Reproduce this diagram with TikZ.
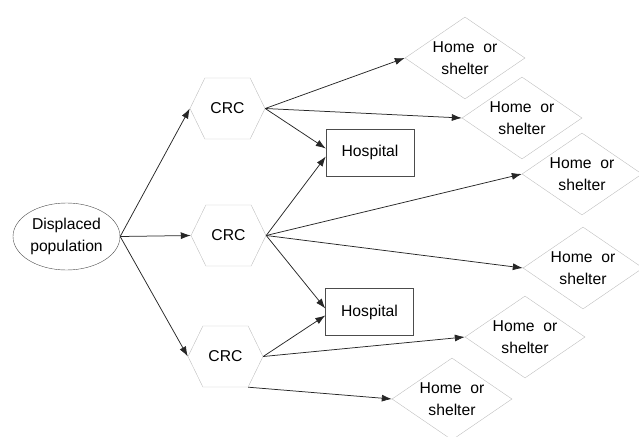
\documentclass[tikz,border=0pt]{standalone}
\usepackage{fontspec}
\setmainfont{Liberation Sans}
\usetikzlibrary{shapes.geometric,shapes.symbols,arrows.meta}

\begin{document}
\begin{tikzpicture}[x=1pt,y=-1pt,
  every node/.style={font=\fontsize{15.7}{22}\selectfont,align=center},
  pop/.style={ellipse,draw=black!70,minimum width=107pt,minimum height=67pt,inner sep=0pt},
  crc/.style={signal,signal to=west and east,signal pointer angle=128,draw=black!25,
    minimum width=75pt,minimum height=61pt,inner sep=0pt},
  hosp/.style={rectangle,draw=black!70,minimum width=88pt,minimum height=47pt,inner sep=0pt},
  home/.style={diamond,draw=black!25,aspect=1.46,minimum width=120pt,minimum height=82pt,inner sep=0pt},
  flow/.style={draw=black!85,line width=0.75pt,-{Latex[length=10pt,width=7pt]}}]
  \useasboundingbox (0,0) rectangle (639,436);
  \node[pop] (pop) at (66.5,236.5) {\fontsize{15.7}{25}\selectfont Displaced\\population};
  \node[crc] (crc1) at (227.5,108.5) {CRC};
  \node[crc] (crc2) at (228.5,235.5) {CRC};
  \node[crc] (crc3) at (225.5,356.5) {CRC};
  \node[hosp] (hosp1) at (370,152.5) {Hospital};
  \node[hosp] (hosp2) at (369.5,312) {Hospital};
  \node[home] (home1) at (465,58) {Home\ \ or\\shelter};
  \node[home] (home2) at (522,118) {Home\ \ or\\shelter};
  \node[home] (home3) at (582,174) {Home\ \ or\\shelter};
  \node[home] (home4) at (583,268) {Home\ \ or\\shelter};
  \node[home] (home5) at (525,337) {Home\ \ or\\shelter};
  \node[home] (home6) at (452,399) {Home\ \ or\\shelter};
  \foreach \c in {crc1,crc2,crc3}
    \draw[flow] (pop.east) -- (\c.west);
  \draw[flow] (crc1.east) -- (home1.west);
  \draw[flow] (crc1.east) -- (home2.west);
  \draw[flow] (crc1.east) -- ([yshift=4pt]hosp1.west);
  \draw[flow] (crc2.east) -- ([yshift=-4pt]hosp1.west);
  \draw[flow] (crc2.east) -- (home3.west);
  \draw[flow] (crc2.east) -- (home4.west);
  \draw[flow] (crc2.east) -- ([yshift=3.5pt]hosp2.west);
  \draw[flow] (crc3.east) -- ([yshift=-3.5pt]hosp2.west);
  \draw[flow] (crc3.east) -- (home5.west);
  \draw[flow] (crc3.south east) -- (home6.west);
\end{tikzpicture}
\end{document}
